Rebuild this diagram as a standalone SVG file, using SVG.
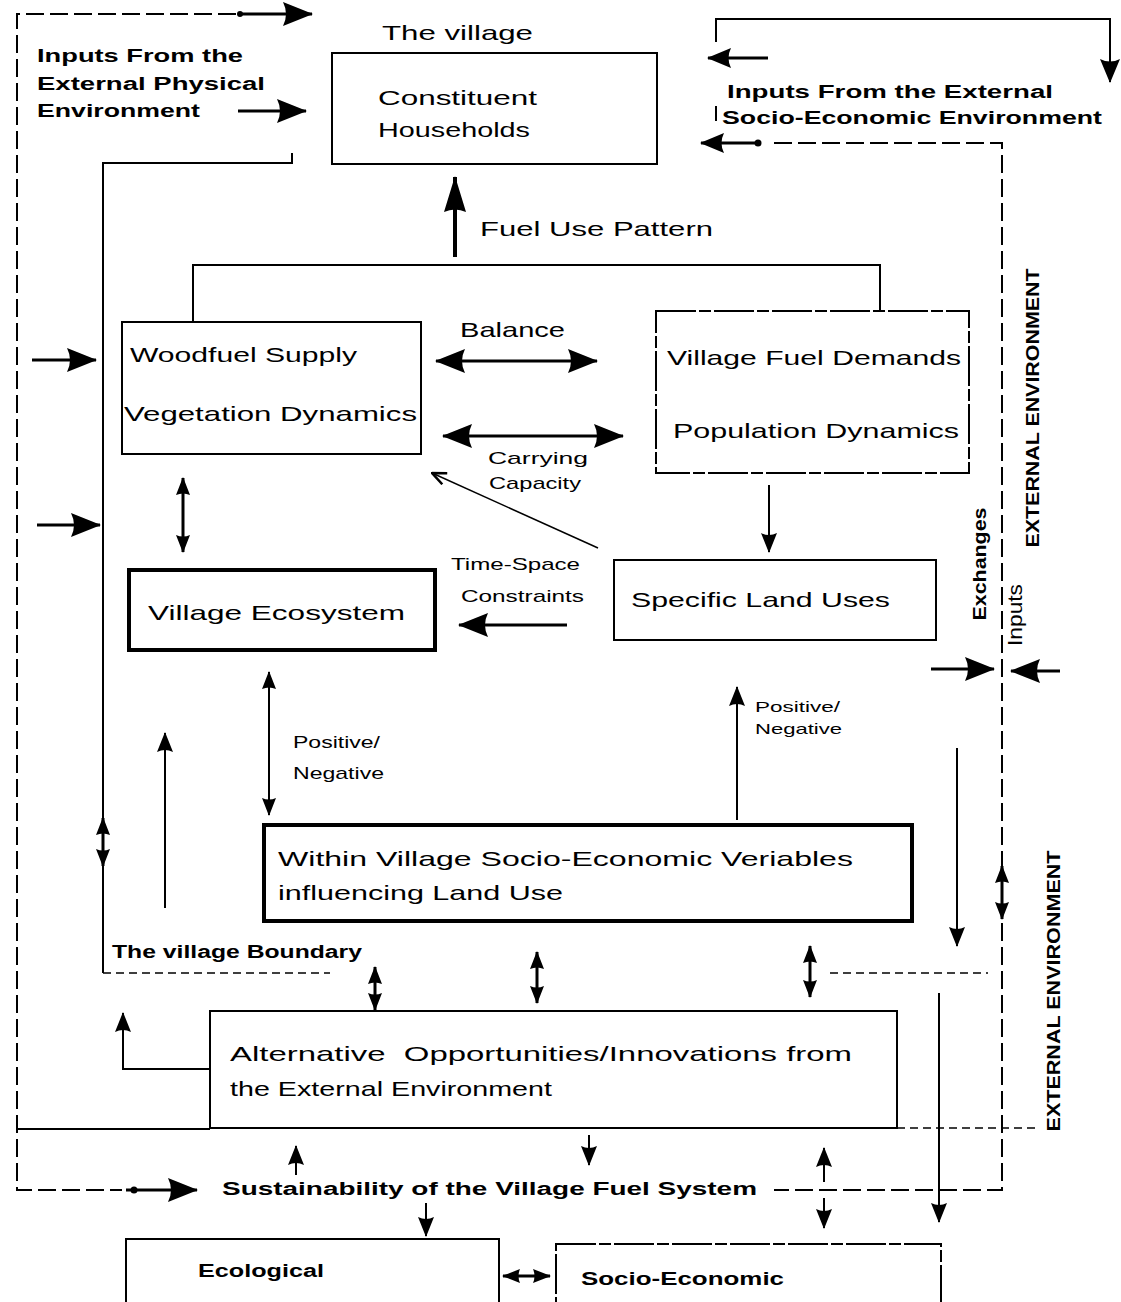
<svg xmlns="http://www.w3.org/2000/svg" width="1121" height="1302" viewBox="0 0 1121 1302">
<defs>
<style>
.t{font-family:"Liberation Sans","DejaVu Sans",Arial,sans-serif;font-size:21px;fill:#000}
.b{font-family:"Liberation Sans","DejaVu Sans",Arial,sans-serif;font-weight:bold;font-size:18px;fill:#000}
.s{font-size:17px}
.xs{font-size:15px}
.box{fill:#fff;stroke:#000;stroke-width:2}
.thick{stroke-width:4}
.brk{stroke-dasharray:40 3 12 3}
.ln{fill:none;stroke:#000;stroke-width:2}
.ar{fill:none;stroke:#000;stroke-width:3}
.dash{fill:none;stroke:#000;stroke-width:2;stroke-dasharray:18 6}
.dash2{fill:none;stroke:#000;stroke-width:1.5;stroke-dasharray:8 5}
</style>
<marker id="aL" markerUnits="userSpaceOnUse" viewBox="0 0 30 24" markerWidth="30" markerHeight="24" refX="29" refY="12" orient="auto-start-reverse"><path d="M0,0 L30,12 L0,24 Q6,12 0,0z"/></marker>
<marker id="aF" markerUnits="userSpaceOnUse" viewBox="0 0 36 22" markerWidth="36" markerHeight="22" refX="35" refY="11" orient="auto-start-reverse"><path d="M0,0 L36,11 L0,22 Q5,11 0,0z"/></marker>
<marker id="aT" markerUnits="userSpaceOnUse" viewBox="0 0 24 20" markerWidth="24" markerHeight="20" refX="23" refY="10" orient="auto-start-reverse"><path d="M0,0 L24,10 L0,20 Q5,10 0,0z"/></marker>
<marker id="aM" markerUnits="userSpaceOnUse" viewBox="0 0 20 16" markerWidth="20" markerHeight="16" refX="19" refY="8" orient="auto-start-reverse"><path d="M0,0 L20,8 L0,16 Q4,8 0,0z"/></marker>
<marker id="aS" markerUnits="userSpaceOnUse" viewBox="0 0 18 14" markerWidth="18" markerHeight="14" refX="17" refY="7" orient="auto-start-reverse"><path d="M0,0 L18,7 L0,14 Q3,7 0,0z"/></marker>
<marker id="aO" markerUnits="userSpaceOnUse" viewBox="0 0 16 14" markerWidth="16" markerHeight="14" refX="15" refY="7" orient="auto"><path d="M1,1 L15,7 L1,13" fill="none" stroke="#000" stroke-width="2.5"/></marker>
</defs>
<rect width="1121" height="1302" fill="#fff"/>

<g id="connectors">
<path class="dash" d="M236,14 L17,14 L17,1190 L122,1190"/>
<path class="ar" d="M238,14 L312,14" marker-end="url(#aL)"/>
<circle cx="240" cy="14" r="3"/>
<path class="ar" d="M126,1190 L197,1190" marker-end="url(#aL)"/>
<circle cx="134" cy="1190" r="3.5"/>
<path class="ar" d="M238,111 L306,111" marker-end="url(#aL)"/>
<path class="ln" d="M292,153 L292,163 L103,163 L103,973"/>
<path class="dash2" d="M103,973 L330,973"/>
<path class="ar" d="M103,818 L103,866" marker-start="url(#aS)" marker-end="url(#aS)"/>
<path fill="none" stroke="#000" stroke-width="4" d="M455,257 L455,177" marker-end="url(#aF)"/>
<path class="ln" d="M193,322 L193,265 L880,265 L880,311"/>
<path class="ar" d="M436,361 L597,361" marker-start="url(#aL)" marker-end="url(#aL)"/>
<path class="ar" d="M443,436 L623,436" marker-start="url(#aL)" marker-end="url(#aL)"/>
<path fill="none" stroke="#000" stroke-width="1.5" d="M598,548 L432,473" marker-end="url(#aO)"/>
<path class="ar" d="M183,478 L183,552" marker-start="url(#aS)" marker-end="url(#aS)"/>
<path class="ar" d="M32,360 L96,360" marker-end="url(#aL)"/>
<path class="ar" d="M37,525 L100,525" marker-end="url(#aL)"/>
<path class="ar" d="M567,625 L459,625" marker-end="url(#aL)"/>
<path class="ln" d="M769,485 L769,552" marker-end="url(#aM)"/>
<path class="dash" d="M774,143 L1002,143 L1002,1190 L774,1190"/>
<path class="ar" d="M758,143 L701,143" marker-end="url(#aT)"/>
<circle cx="758" cy="143" r="3.5"/>
<path class="ln" d="M716,42 L716,19 L1110,19 L1110,82" marker-end="url(#aT)"/>
<path class="ar" d="M768,58 L708,58" marker-end="url(#aT)"/>
<path class="ar" d="M931,669 L994,669" marker-end="url(#aL)"/>
<path class="ar" d="M1060,671 L1011,671" marker-end="url(#aL)"/>
<path class="ln" d="M957,748 L957,946" marker-end="url(#aM)"/>
<path class="ar" d="M1002,866 L1002,919" marker-start="url(#aS)" marker-end="url(#aS)"/>
<path class="dash2" d="M830,973 L988,973"/>
<path class="ln" d="M18,1129 L210,1129"/>
<path class="dash2" d="M897,1128 L1038,1128"/>
<path class="ln" d="M939,993 L939,1222" marker-end="url(#aM)"/>
<path class="ln" d="M737,820 L737,687" marker-end="url(#aM)"/>
<path class="ln" d="M269,672 L269,815" marker-start="url(#aS)" marker-end="url(#aS)"/>
<path class="ln" d="M165,908 L165,733" marker-end="url(#aM)"/>
<path class="ar" d="M375,967 L375,1010" marker-start="url(#aS)" marker-end="url(#aS)"/>
<path class="ar" d="M537,952 L537,1003" marker-start="url(#aS)" marker-end="url(#aS)"/>
<path class="ar" d="M810,946 L810,997" marker-start="url(#aS)" marker-end="url(#aS)"/>
<path class="ln" d="M210,1069 L123,1069 L123,1013" marker-end="url(#aM)"/>
<path class="ln" d="M296,1175 L296,1146" marker-end="url(#aM)"/>
<path class="ln" d="M589,1135 L589,1165" marker-end="url(#aM)"/>
<path class="ln" d="M824,1182 L824,1148" marker-end="url(#aM)"/>
<path class="ln" d="M824,1198 L824,1228" marker-end="url(#aM)"/>
<path class="ln" d="M426,1203 L426,1236" marker-end="url(#aM)"/>
<path class="ar" d="M503,1276 L550,1276" marker-start="url(#aS)" marker-end="url(#aS)"/>
<path class="ln" d="M716,106 L716,121"/>
</g>

<g id="labels">
<text class="t" x="382" y="40" font-size="22" textLength="151" lengthAdjust="spacingAndGlyphs">The village</text>
<text class="b" x="37" y="62" textLength="206" lengthAdjust="spacingAndGlyphs">Inputs From the</text>
<text class="b" x="37" y="90" textLength="228" lengthAdjust="spacingAndGlyphs">External Physical</text>
<text class="b" x="37" y="117" textLength="163" lengthAdjust="spacingAndGlyphs">Environment</text>
<text class="b" x="727" y="98" textLength="326" lengthAdjust="spacingAndGlyphs">Inputs From the External</text>
<text class="b" x="722" y="124" textLength="380" lengthAdjust="spacingAndGlyphs">Socio-Economic Environment</text>
<text class="t" x="480" y="236" textLength="233" lengthAdjust="spacingAndGlyphs">Fuel Use Pattern</text>
<text class="t" x="460" y="337" textLength="105" lengthAdjust="spacingAndGlyphs">Balance</text>
<text class="t s" x="488" y="464" textLength="100" lengthAdjust="spacingAndGlyphs">Carrying</text>
<text class="t s" x="489" y="489" textLength="92" lengthAdjust="spacingAndGlyphs">Capacity</text>
<text class="t s" x="451" y="570" textLength="129" lengthAdjust="spacingAndGlyphs">Time-Space</text>
<text class="t s" x="461" y="602" textLength="123" lengthAdjust="spacingAndGlyphs">Constraints</text>
<text class="t s" x="293" y="748" textLength="87" lengthAdjust="spacingAndGlyphs">Positive/</text>
<text class="t s" x="293" y="779" textLength="91" lengthAdjust="spacingAndGlyphs">Negative</text>
<text class="t xs" x="755" y="712" textLength="85" lengthAdjust="spacingAndGlyphs">Positive/</text>
<text class="t xs" x="755" y="734" textLength="87" lengthAdjust="spacingAndGlyphs">Negative</text>
<text class="b" x="112" y="958" font-size="16" textLength="250" lengthAdjust="spacingAndGlyphs">The village Boundary</text>
<text class="b" x="222" y="1195" font-size="19" textLength="535" lengthAdjust="spacingAndGlyphs">Sustainability of the Village Fuel System</text>
<text class="b" transform="translate(1039,408) rotate(-90)" text-anchor="middle" font-size="17" textLength="279" lengthAdjust="spacingAndGlyphs">EXTERNAL ENVIRONMENT</text>
<text class="b" transform="translate(1060,991) rotate(-90)" text-anchor="middle" font-size="17" textLength="281" lengthAdjust="spacingAndGlyphs">EXTERNAL ENVIRONMENT</text>
<text class="b" transform="translate(986,564) rotate(-90)" text-anchor="middle" font-size="17" textLength="113" lengthAdjust="spacingAndGlyphs">Exchanges</text>
<text class="t" transform="translate(1022,615) rotate(-90)" text-anchor="middle" font-size="16" textLength="62" lengthAdjust="spacingAndGlyphs">Inputs</text>
</g>

<g id="node-households">
<rect class="box" x="332" y="53" width="325" height="111" stroke-width="3"/>
<text class="t" x="378" y="105" textLength="159" lengthAdjust="spacingAndGlyphs">Constituent</text>
<text class="t" x="378" y="137" textLength="152" lengthAdjust="spacingAndGlyphs">Households</text>
</g>
<g id="node-woodfuel">
<rect class="box" x="122" y="322" width="299" height="132"/>
<text class="t" x="130" y="362" textLength="227" lengthAdjust="spacingAndGlyphs">Woodfuel Supply</text>
<text class="t" x="124" y="421" textLength="293" lengthAdjust="spacingAndGlyphs">Vegetation Dynamics</text>
</g>
<g id="node-demands">
<rect class="box brk" x="656" y="311" width="313" height="162"/>
<text class="t" x="667" y="365" textLength="294" lengthAdjust="spacingAndGlyphs">Village Fuel Demands</text>
<text class="t" x="673" y="438" textLength="286" lengthAdjust="spacingAndGlyphs">Population Dynamics</text>
</g>
<g id="node-ecosystem">
<rect class="box thick" x="129" y="570" width="306" height="80"/>
<text class="t" x="148" y="620" textLength="257" lengthAdjust="spacingAndGlyphs">Village Ecosystem</text>
</g>
<g id="node-landuses">
<rect class="box" x="614" y="560" width="322" height="80"/>
<text class="t" x="631" y="607" textLength="259" lengthAdjust="spacingAndGlyphs">Specific Land Uses</text>
</g>
<g id="node-within">
<rect class="box thick" x="264" y="825" width="648" height="96"/>
<text class="t" x="278" y="866" textLength="575" lengthAdjust="spacingAndGlyphs">Within Village Socio-Economic Veriables</text>
<text class="t" x="278" y="900" textLength="285" lengthAdjust="spacingAndGlyphs">influencing Land Use</text>
</g>
<g id="node-alternative">
<rect class="box" x="210" y="1011" width="687" height="117" stroke-width="3.5"/>
<text class="t" x="230" y="1061" xml:space="preserve" textLength="622" lengthAdjust="spacingAndGlyphs">Alternative  Opportunities/Innovations from</text>
<text class="t" x="230" y="1096" textLength="322" lengthAdjust="spacingAndGlyphs">the External Environment</text>
</g>
<g id="node-ecological">
<rect class="box" x="126" y="1239" width="373" height="75"/>
<text class="b" x="198" y="1277" font-size="19" textLength="126" lengthAdjust="spacingAndGlyphs">Ecological</text>
</g>
<g id="node-socioeconomic">
<rect class="box brk" x="556" y="1244" width="385" height="75"/>
<text class="b" x="581" y="1285" font-size="19" textLength="203" lengthAdjust="spacingAndGlyphs">Socio-Economic</text>
</g>
</svg>
